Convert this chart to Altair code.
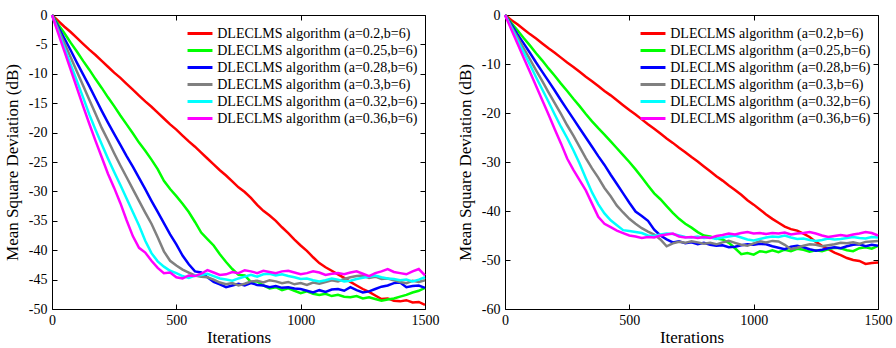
import altair as alt
import pandas as pd

ITER = list(range(0, 1501, 25))

SERIES = [
    "DLECLMS algorithm (a=0.2,b=6)",
    "DLECLMS algorithm (a=0.25,b=6)",
    "DLECLMS algorithm (a=0.28,b=6)",
    "DLECLMS algorithm (a=0.3,b=6)",
    "DLECLMS algorithm (a=0.32,b=6)",
    "DLECLMS algorithm (a=0.36,b=6)",
]
COLORS = ["#ff0000", "#00ff00", "#0000ff", "#808080", "#00ffff", "#ff00ff"]

X_TICKS = [0, 500, 1000, 1500]
L_Y_TICKS = [-50, -45, -40, -35, -30, -25, -20, -15, -10, -5, 0]
R_Y_TICKS = [-60, -50, -40, -30, -20, -10, 0]

L_RED = [0, -1.0, -2.0, -2.9, -3.9, -4.9, -5.9, -6.8, -7.8, -8.8, -9.8, -10.7, -11.7, -12.7, -13.7, -14.7,
         -15.6, -16.6, -17.6, -18.6, -19.5, -20.5, -21.5, -22.4, -23.4, -24.4, -25.4, -26.4, -27.3, -28.3,
         -29.3, -30.1, -31.1, -32.3, -33.3, -34.1, -35.0, -36.1, -37.1, -38.2, -39.2, -40.1, -41.2, -42.2,
         -42.9, -43.5, -44.1, -44.7, -45.4, -46.0, -46.6, -47.1, -47.7, -48.3, -48.2, -48.6, -48.7, -48.5,
         -48.9, -48.8, -49.3]
L_GREEN = [0, -1.6, -3.1, -4.7, -6.2, -7.8, -9.3, -10.9, -12.4, -14.0, -15.5, -17.1, -18.6, -20.1, -21.7,
           -23.1, -24.6, -26.2, -28.2, -29.6, -30.8, -32.1, -33.5, -35.2, -37.0, -38.1, -39.2, -40.7, -42.0,
           -43.2, -44.2, -44.3, -45.4, -45.3, -46.0, -46.5, -46.3, -46.8, -46.5, -46.9, -47.3, -47.0, -47.4,
           -47.6, -47.4, -47.8, -47.6, -47.9, -48.0, -47.8, -48.2, -48.0, -48.3, -48.6, -48.4, -48.2, -47.9,
           -47.6, -47.2, -46.9, -46.4]
L_BLUE = [0, -2.0, -4.0, -6.0, -8.1, -10.1, -12.1, -14.2, -16.3, -18.3, -20.2, -22.1, -24.0, -25.8, -27.7,
          -29.6, -31.6, -33.5, -35.4, -37.3, -39.0, -40.9, -42.4, -43.6, -43.8, -44.6, -45.4, -45.8, -46.3,
          -46.0, -45.7, -46.0, -45.6, -45.9, -46.0, -46.3, -46.1, -46.4, -46.3, -46.5, -46.6, -46.9, -47.2,
          -46.8, -47.1, -46.7, -46.6, -46.9, -46.3, -46.8, -47.2, -47.0, -46.6, -46.2, -46.0, -45.6, -45.5,
          -46.3, -46.1, -46.0, -46.4]
L_GRAY = [0, -2.4, -4.8, -7.2, -9.6, -12.0, -14.4, -16.8, -19.2, -21.3, -23.5, -25.6, -27.6, -29.6, -31.6,
          -33.6, -35.5, -37.8, -40.2, -41.8, -42.6, -43.3, -43.8, -44.3, -44.5, -44.6, -45.0, -45.5, -45.8,
          -45.6, -46.0, -45.7, -45.3, -45.2, -45.5, -45.1, -45.3, -45.6, -45.4, -45.8, -45.6, -45.9, -45.5,
          -45.7, -45.4, -45.1, -45.3, -44.9, -44.6, -44.4, -44.3, -44.7, -44.5, -44.9, -44.8, -45.1, -45.4,
          -45.6, -45.2, -45.4, -45.1]
L_CYAN = [0, -2.8, -5.6, -8.4, -11.2, -14.0, -16.9, -19.5, -22.0, -24.4, -26.7, -28.9, -31.2, -33.5, -35.8,
          -38.4, -40.5, -41.9, -42.8, -43.5, -43.9, -44.4, -44.7, -44.3, -44.2, -44.0, -44.4, -44.8, -45.0,
          -45.2, -44.8, -44.5, -44.2, -44.5, -44.1, -44.0, -44.3, -44.1, -44.4, -44.6, -44.9, -44.8, -45.1,
          -45.3, -45.1, -44.8, -45.0, -45.3, -45.2, -44.9, -44.7, -44.5, -44.3, -44.6, -44.8, -44.9, -45.1,
          -45.0, -45.3, -45.0, -44.6]
L_MAGENTA = [0, -3.1, -6.2, -9.3, -12.4, -15.5, -18.5, -21.4, -24.2, -27.0, -29.4, -32.0, -34.9, -37.6, -39.6,
             -40.4, -41.8, -43.0, -43.9, -43.8, -44.6, -44.8, -44.3, -44.4, -44.0, -43.4, -43.8, -44.2, -44.1,
             -43.7, -43.9, -43.4, -43.6, -43.9, -43.5, -43.7, -43.9, -43.6, -43.5, -43.8, -44.1, -43.9, -43.6,
             -43.8, -44.2, -44.0, -43.9, -44.1, -43.8, -43.6, -44.0, -44.4, -43.9, -43.6, -43.2, -43.7, -43.9,
             -44.1, -43.6, -43.2, -44.3]

R_RED = [0, -1.0, -1.9, -2.9, -3.9, -4.8, -5.8, -6.8, -7.7, -8.7, -9.7, -10.6, -11.6, -12.6, -13.5, -14.5,
         -15.5, -16.4, -17.4, -18.4, -19.4, -20.3, -21.3, -22.3, -23.2, -24.2, -25.2, -26.1, -27.1, -28.0,
         -29.0, -29.9, -30.9, -31.9, -32.9, -33.8, -34.8, -35.7, -36.7, -37.8, -38.7, -39.7, -40.7, -41.6,
         -42.4, -43.2, -43.7, -44.0, -44.6, -45.3, -46.3, -47.1, -47.8, -48.5, -49.0, -49.6, -50.0, -50.2,
         -50.8, -50.6, -50.5]
R_GREEN = [0, -1.6, -3.1, -4.7, -6.2, -7.8, -9.3, -10.9, -12.4, -14.0, -15.5, -17.1, -18.6, -20.2, -21.7,
           -23.1, -24.4, -25.8, -27.2, -28.6, -30.0, -31.5, -33.1, -34.8, -36.4, -37.6, -39.0, -40.4, -41.6,
           -42.6, -43.4, -44.3, -45.0, -45.2, -45.6, -45.8, -46.5, -47.6, -48.8, -48.6, -48.9, -48.2, -48.4,
           -48.0, -48.4, -47.9, -48.2, -47.7, -47.9, -48.3, -48.0, -48.2, -47.8, -47.5, -47.6, -48.0, -48.2,
           -47.6, -47.4, -47.7, -47.1]
R_BLUE = [0, -1.9, -3.9, -5.8, -7.7, -9.7, -11.6, -13.5, -15.4, -17.4, -19.3, -21.2, -23.1, -25.0, -26.9,
          -28.8, -30.6, -32.6, -34.5, -36.4, -38.3, -40.1, -41.0, -42.0, -43.8, -45.0, -45.8, -46.4, -46.2,
          -46.6, -46.4, -46.8, -46.5, -46.9, -47.1, -47.0, -47.4, -47.3, -47.0, -46.8, -46.9, -46.7, -46.8,
          -47.2, -47.5, -47.8, -47.3, -47.1, -47.4, -47.8, -48.1, -47.9, -47.6, -47.4, -47.6, -47.2, -46.9,
          -46.8, -47.2, -46.9, -47.1]
R_GRAY = [0, -2.3, -4.5, -6.8, -9.0, -11.3, -13.5, -15.8, -18.0, -20.2, -22.5, -24.6, -26.9, -29.2, -31.3,
          -33.2, -35.3, -37.0, -38.9, -40.3, -41.6, -42.6, -43.5, -44.2, -44.8, -45.8, -47.2, -46.6, -46.3,
          -46.5, -46.2, -46.4, -46.7, -46.5, -46.8, -46.4, -46.1, -46.5, -46.9, -47.1, -46.6, -46.2, -46.4,
          -46.1, -46.2, -46.9, -47.8, -47.5, -47.1, -46.8, -46.9, -47.2, -47.0, -46.8, -46.5, -46.6, -46.4,
          -46.7, -46.3, -46.2, -46.1]
R_CYAN = [0, -2.5, -5.1, -7.6, -10.1, -12.7, -15.2, -17.7, -20.3, -22.8, -25.1, -27.6, -30.3, -33.3, -36.2,
          -38.6, -40.5, -41.9, -42.9, -43.9, -44.1, -44.3, -44.5, -45.0, -45.1, -44.8, -44.6, -44.7, -45.0,
          -45.3, -45.4, -45.2, -45.5, -45.4, -45.7, -45.4, -45.2, -45.0, -45.4, -45.8, -46.0, -45.7, -45.4,
          -45.2, -45.3, -45.0, -45.4, -45.7, -45.6, -45.9, -46.1, -45.9, -45.6, -45.8, -45.7, -45.5, -45.3,
          -45.5, -45.6, -45.3, -45.4]
R_MAGENTA = [0, -2.9, -5.8, -8.7, -11.6, -14.5, -17.4, -20.3, -23.3, -26.2, -29.3, -31.6, -33.7, -35.8, -38.5,
             -41.2, -42.6, -43.3, -44.0, -44.5, -45.0, -45.2, -45.5, -45.3, -45.4, -45.0, -44.8, -44.6, -45.2,
             -45.4, -45.3, -45.5, -45.3, -45.5, -45.1, -44.9, -44.6, -44.8, -44.5, -44.3, -44.6, -44.5, -44.7,
             -44.5, -44.6, -44.4, -44.8, -44.6, -44.5, -44.3, -44.6, -45.0, -45.3, -45.1, -44.9, -45.1, -44.8,
             -44.6, -44.3, -44.5, -45.0]

FONT = "Liberation Serif"
W, H = 373, 294


def make_panel(series_values, y_domain, y_ticks):
    layers = []
    xs = alt.Scale(domain=[0, 1500], nice=False, zero=False)
    ys = alt.Scale(domain=y_domain, nice=False, zero=False)
    common = dict(domain=False, grid=False, tickSize=5, offset=-5, tickColor="black",
                  tickWidth=1, labelFontSize=14, labelColor="black",
                  labelFlush=False, labelOverlap=False,
                  titleFontSize=17, titleFontWeight="normal", titleColor="black")
    for i, (name, vals) in enumerate(zip(SERIES, series_values)):
        df = pd.DataFrame({"iter": ITER, "msd": vals, "series": name})
        if i == 0:
            xa = alt.Axis(orient="bottom", values=X_TICKS, title="Iterations", labelPadding=4,
                          titlePadding=2, labelExpr="'' + datum.value", **common)
            ya = alt.Axis(orient="left", values=y_ticks, title="Mean Square Deviation (dB)",
                          labelPadding=5, titlePadding=7, labelExpr="'' + datum.value", **common)
        elif i == 1:
            xa = alt.Axis(orient="top", values=X_TICKS, title=None, labels=False, **common)
            ya = alt.Axis(orient="right", values=y_ticks, title=None, labels=False, **common)
        else:
            xa = None
            ya = None
        layers.append(
            alt.Chart(df).mark_line(strokeWidth=2.5).encode(
                x=alt.X("iter:Q", scale=xs, axis=xa),
                y=alt.Y("msd:Q", scale=ys, axis=ya),
                color=alt.Color(
                    "series:N",
                    scale=alt.Scale(domain=SERIES, range=COLORS),
                    legend=alt.Legend(
                        orient="none", legendX=138.5, legendY=9, title=None,
                        symbolType="M-1.61,0H1.61", symbolSize=240, symbolStrokeWidth=3,
                        labelFontSize=14, labelColor="black", labelLimit=0,
                        labelOffset=7.75, rowPadding=0, padding=0,
                    ),
                ),
            )
        )
    return (
        alt.layer(*layers)
        .resolve_axis(x="independent", y="independent")
        .properties(width=W, height=H)
    )


left = make_panel([L_RED, L_GREEN, L_BLUE, L_GRAY, L_CYAN, L_MAGENTA], [-50, 0], L_Y_TICKS)
right = make_panel([R_RED, R_GREEN, R_BLUE, R_GRAY, R_CYAN, R_MAGENTA], [-60, 0], R_Y_TICKS)

chart = (
    alt.hconcat(left, right, spacing=80, bounds="flush")
    .resolve_scale(color="independent")
    .resolve_legend(color="independent")
    .properties(padding={"left": 2, "top": 7, "right": 0, "bottom": 0}, background="white")
    .configure(font=FONT)
    .configure_axis(labelFont=FONT, titleFont=FONT)
    .configure_legend(labelFont=FONT, titleFont=FONT)
    .configure_view(stroke="black", strokeWidth=1)
)

chart.save("out.html", embed_options={"renderer": "svg", "actions": False})
